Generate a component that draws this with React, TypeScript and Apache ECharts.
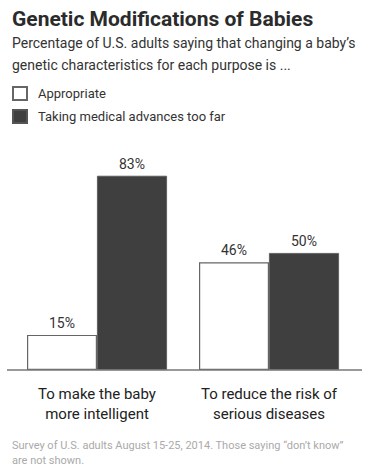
import React, { useEffect, useRef } from "react";
import * as echarts from "echarts";

const categories = ["To make the baby\nmore intelligent", "To reduce the risk of\nserious diseases"];
const seriesNames = ["Appropriate", "Taking medical advances too far"];
const appropriate = [15, 46];
const tooFar = [83, 50];

const FONT = "Roboto, 'Liberation Sans', sans-serif";

export default function App() {
  const ref = useRef<HTMLDivElement>(null);
  useEffect(() => {
    document.body.style.margin = "0";
    const chart = echarts.init(ref.current!, null, { renderer: "svg" });
    chart.setOption({
      animation: false,
      backgroundColor: "#ffffff",
      textStyle: { fontFamily: FONT },
      title: [
        {
          text: "Genetic Modifications of Babies",
          left: 7,
          top: 3,
          textStyle: { fontFamily: FONT, fontSize: 21, fontWeight: "bold", color: "#2b2b2b" },
        },
        {
          text: "Percentage of U.S. adults saying that changing a baby’s\ngenetic characteristics for each purpose is ...",
          left: 7,
          top: 27,
          textStyle: { fontFamily: FONT, fontSize: 14, fontWeight: "normal", color: "#333", lineHeight: 22 },
        },
        {
          text: "Survey of U.S. adults August 15-25, 2014. Those saying “don’t know”\nare not shown.",
          left: 7,
          top: 433,
          textStyle: { fontFamily: FONT, fontSize: 11, fontWeight: "normal", color: "#aaa", lineHeight: 15 },
        },
      ],
      legend: {
        orient: "vertical",
        left: 12,
        top: 86,
        padding: 0,
        itemWidth: 14,
        itemHeight: 13,
        itemGap: 8,
        icon: "rect",
        selectedMode: false,
        textStyle: { fontFamily: FONT, fontSize: 13, color: "#333", padding: [0, 0, 0, 6] },
        data: seriesNames,
      },
      grid: { left: 11, right: 15, top: 136, bottom: 105 },
      xAxis: {
        type: "category",
        data: categories,
        axisLine: { show: false },
        axisTick: { show: false },
        axisLabel: { interval: 0, fontFamily: FONT, fontSize: 15, color: "#222", lineHeight: 20, margin: 14 },
      },
      yAxis: { type: "value", min: 0, max: 100, show: false, splitLine: { show: false } },
      graphic: [
        {
          type: "line",
          shape: { x1: 7, y1: 370, x2: 362, y2: 370 },
          style: { stroke: "#777", lineWidth: 1.5 },
          z: 100,
        },
      ],
      series: [
        {
          name: seriesNames[0],
          type: "bar",
          data: appropriate,
          barWidth: 70,
          barGap: "0%",
          itemStyle: { color: "#ffffff", borderColor: "#666", borderWidth: 1.2 },
          label: {
            show: true,
            position: "top",
            distance: 5,
            formatter: "{c}%",
            fontFamily: FONT,
            fontSize: 14,
            color: "#333",
          },
        },
        {
          name: seriesNames[1],
          type: "bar",
          data: tooFar,
          barWidth: 70,
          barGap: "0%",
          itemStyle: { color: "#3f3f3f", borderColor: "#555", borderWidth: 0.8 },
          label: {
            show: true,
            position: "top",
            distance: 5,
            formatter: "{c}%",
            fontFamily: FONT,
            fontSize: 14,
            color: "#333",
          },
        },
      ],
    });
    return () => chart.dispose();
  }, []);
  return <div ref={ref} style={{ width: 370, height: 475 }} />;
}
